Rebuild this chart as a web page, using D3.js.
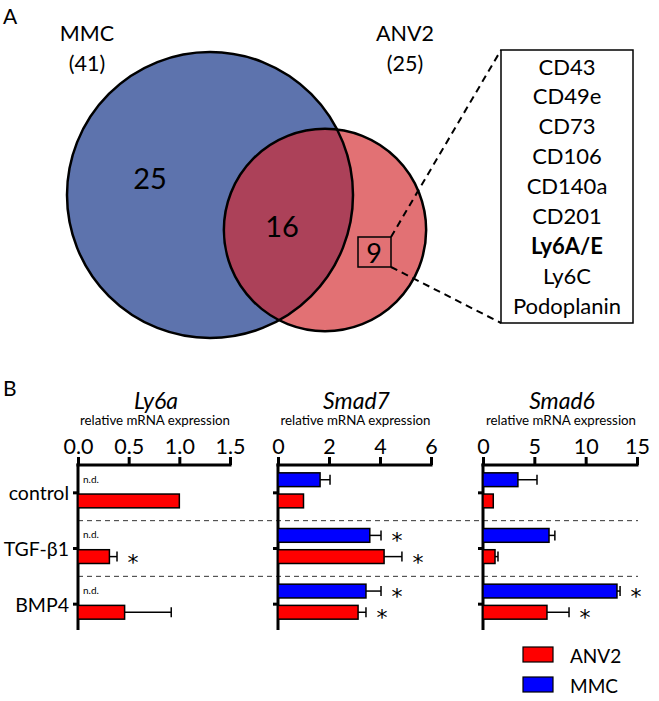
<!DOCTYPE html>
<html>
<head>
<meta charset="utf-8">
<script src="https://cdn.jsdelivr.net/npm/d3@7"></script>
<style>
  body { margin: 0; background: #fff; }
  svg { font-family: Lato, "Open Sans", sans-serif; }
</style>
</head>
<body>
<svg id="fig" width="659" height="701"></svg>
<script>
// ---- data ----
const vennSets = ["MMC", "ANV2"];
const vennTotals = [41, 25];
const vennCounts = [25, 16, 9]; // MMC only, both, ANV2 only
const anv2Markers = ["CD43", "CD49e", "CD73", "CD106", "CD140a", "CD201", "Ly6A/E", "Ly6C", "Podoplanin"];

const categories = ["control", "TGF-β1", "BMP4"];
const series = ["MMC", "ANV2"];

const ly6aMMC = [null, null, null];
const ly6aMMCErr = [0, 0, 0];
const ly6aMMCSig = [false, false, false];
const ly6aANV2 = [1.0, 0.31, 0.46];
const ly6aANV2Err = [0, 0.075, 0.46];
const ly6aANV2Sig = [false, true, false];

const smad7MMC = [1.65, 3.6, 3.45];
const smad7MMCErr = [0.39, 0.44, 0.59];
const smad7MMCSig = [false, true, true];
const smad7ANV2 = [1.0, 4.16, 3.14];
const smad7ANV2Err = [0, 0.7, 0.31];
const smad7ANV2Sig = [false, true, true];

const smad6MMC = [3.4, 6.43, 13.05];
const smad6MMCErr = [1.86, 0.57, 0.3];
const smad6MMCSig = [false, false, true];
const smad6ANV2 = [1.0, 1.17, 6.23];
const smad6ANV2Err = [0, 0.29, 2.15];
const smad6ANV2Sig = [false, false, true];

const colors = { MMC: "#0000ff", ANV2: "#ff0000" };

const svg = d3.select("#fig");

// ---- panel A: venn ----
svg.append("text").attr("x", 3).attr("y", 24).attr("font-size", 21).text("A");

const r = d3.scalePow().exponent(0.7).domain([0, 41]).range([0, 143]);
const circles = [
  { name: vennSets[0], total: vennTotals[0], cx: 210, cy: 195, fill: "#5d73ad" },
  { name: vennSets[1], total: vennTotals[1], cx: 325, cy: 230, fill: "#e27174" }
];

svg.append("clipPath").attr("id", "clipMMC")
  .append("circle").attr("cx", circles[0].cx).attr("cy", circles[0].cy).attr("r", r(circles[0].total));

svg.selectAll("circle.fill").data(circles).enter().append("circle")
  .attr("class", "fill")
  .attr("cx", d => d.cx).attr("cy", d => d.cy).attr("r", d => r(d.total))
  .attr("fill", d => d.fill);

svg.append("circle")
  .attr("cx", circles[1].cx).attr("cy", circles[1].cy).attr("r", r(circles[1].total))
  .attr("fill", "#ac4159").attr("clip-path", "url(#clipMMC)");

svg.selectAll("circle.edge").data(circles).enter().append("circle")
  .attr("class", "edge")
  .attr("cx", d => d.cx).attr("cy", d => d.cy).attr("r", d => r(d.total))
  .attr("fill", "none").attr("stroke", "#000").attr("stroke-width", 2.5);

const labelX = [87, 405];
circles.forEach((c, i) => {
  svg.append("text").attr("x", labelX[i]).attr("y", 41).attr("text-anchor", "middle")
    .attr("font-size", 21.5).text(c.name);
  svg.append("text").attr("x", labelX[i]).attr("y", 71).attr("text-anchor", "middle")
    .attr("font-size", 21.5).text("(" + c.total + ")");
});

const countPos = [[150, 177], [282, 225], [374, 252]];
vennCounts.forEach((n, i) => {
  svg.append("text").attr("x", countPos[i][0]).attr("y", countPos[i][1])
    .attr("text-anchor", "middle").attr("dominant-baseline", "central")
    .attr("font-size", i < 2 ? 29 : 27).text(n);
});

// box round "9" and zoom lines
const box9 = { x: 358, y: 237, w: 33, h: 30 };
svg.append("rect").attr("x", box9.x).attr("y", box9.y).attr("width", box9.w).attr("height", box9.h)
  .attr("fill", "none").attr("stroke", "#000").attr("stroke-width", 1.5);

const list = { x: 501, y: 50, w: 132, h: 273 };
[[box9.y, list.y], [box9.y + box9.h, list.y + list.h]].forEach(([y1, y2]) => {
  svg.append("line").attr("x1", box9.x + box9.w).attr("y1", y1).attr("x2", list.x).attr("y2", y2)
    .attr("stroke", "#000").attr("stroke-width", 2).attr("stroke-dasharray", "7,5");
});
svg.append("rect").attr("x", list.x).attr("y", list.y).attr("width", list.w).attr("height", list.h)
  .attr("fill", "#fff").attr("stroke", "#000").attr("stroke-width", 1.5);

const listY = d3.scalePoint().domain(anv2Markers).range([66, 305]);
svg.selectAll("text.marker").data(anv2Markers).enter().append("text")
  .attr("class", "marker")
  .attr("x", list.x + list.w / 2).attr("y", d => listY(d))
  .attr("text-anchor", "middle").attr("dominant-baseline", "central")
  .attr("font-size", 22)
  .attr("font-weight", d => d === "Ly6A/E" ? "bold" : "normal")
  .text(d => d);

// ---- panel B: bar charts ----
svg.append("text").attr("x", 3).attr("y", 396).attr("font-size", 21).text("B");

const axisTop = 465, axisBottom = 630;
const yCat = d3.scaleBand().domain(categories).range([axisTop, 632]);
const ySub = d3.scaleBand().domain(series).range([-20, 15]).paddingInner(0.35);

const charts = [
  { title: "Ly6a", left: 78, right: 230, max: 1.5, ticks: [0, 0.5, 1, 1.5], fmt: d3.format(".1f"),
    data: { MMC: [ly6aMMC, ly6aMMCErr, ly6aMMCSig], ANV2: [ly6aANV2, ly6aANV2Err, ly6aANV2Sig] } },
  { title: "Smad7", left: 278, right: 431, max: 6, ticks: [0, 2, 4, 6], fmt: d3.format("d"),
    data: { MMC: [smad7MMC, smad7MMCErr, smad7MMCSig], ANV2: [smad7ANV2, smad7ANV2Err, smad7ANV2Sig] } },
  { title: "Smad6", left: 483, right: 637, max: 15, ticks: [0, 5, 10, 15], fmt: d3.format("d"),
    data: { MMC: [smad6MMC, smad6MMCErr, smad6MMCSig], ANV2: [smad6ANV2, smad6ANV2Err, smad6ANV2Sig] } }
];

// dashed separators between groups
categories.slice(1).forEach(c => {
  svg.append("line").attr("x1", 78).attr("x2", 638)
    .attr("y1", yCat(c)).attr("y2", yCat(c))
    .attr("stroke", "#333").attr("stroke-width", 1).attr("stroke-dasharray", "5,4");
});

charts.forEach((ch, ci) => {
  const x = d3.scaleLinear().domain([0, ch.max]).range([ch.left, ch.right]);
  const g = svg.append("g");
  const mid = (ch.left + ch.right) / 2;

  g.append("text").attr("x", mid + 2).attr("y", 409).attr("text-anchor", "middle")
    .attr("font-size", 23).attr("font-style", "italic").text(ch.title);
  g.append("text").attr("x", mid + 1).attr("y", 425).attr("text-anchor", "middle")
    .attr("font-size", 13.3).text("relative mRNA expression");

  const ax = g.append("g").attr("transform", `translate(0,${axisTop})`)
    .call(d3.axisTop(x).tickValues(ch.ticks).tickFormat(ch.fmt).tickSize(8).tickSizeOuter(0).tickPadding(3));
  ax.select(".domain").attr("stroke-width", 3).attr("d", `M${ch.left - 1.5},0H${ch.right + 1.5}`);
  ax.selectAll(".tick line").attr("stroke-width", 3);
  ax.selectAll(".tick text").attr("font-size", 21.5).attr("font-family", "Lato, sans-serif").attr("fill", "#000");

  // vertical category axis
  g.append("line").attr("x1", ch.left).attr("x2", ch.left)
    .attr("y1", axisTop - 1.5).attr("y2", axisBottom)
    .attr("stroke", "#000").attr("stroke-width", 3);
  categories.forEach(c => {
    const cy = yCat(c) + yCat.bandwidth() / 2;
    g.append("line").attr("x1", ch.left - 5).attr("x2", ch.left).attr("y1", cy).attr("y2", cy)
      .attr("stroke", "#000").attr("stroke-width", 3);
    if (ci === 0) {
      g.append("text").attr("x", ch.left - 9).attr("y", cy).attr("text-anchor", "end")
        .attr("dominant-baseline", "central").attr("font-size", 19.5).text(c);
    }
  });

  series.forEach(s => {
    const [vals, errs, sigs] = ch.data[s];
    categories.forEach((c, i) => {
      const cy = yCat(c) + yCat.bandwidth() / 2;
      const y0 = cy + ySub(s);
      const h = ySub.bandwidth();
      const v = vals[i];
      if (v === null) {
        g.append("text").attr("x", ch.left + 5).attr("y", y0 + h / 2 + 3)
          .attr("font-size", 10).text("n.d.");
        return;
      }
      const hi = v + errs[i];
      if (errs[i] > 0) {
        g.append("line").attr("x1", x(v)).attr("x2", x(hi)).attr("y1", y0 + h / 2).attr("y2", y0 + h / 2)
          .attr("stroke", "#000").attr("stroke-width", 1.5);
        g.append("line").attr("x1", x(hi)).attr("x2", x(hi)).attr("y1", y0 + h / 2 - 5).attr("y2", y0 + h / 2 + 5)
          .attr("stroke", "#000").attr("stroke-width", 1.5);
      }
      g.append("rect").attr("x", x(0)).attr("y", y0)
        .attr("width", x(v) - x(0)).attr("height", h)
        .attr("fill", colors[s]).attr("stroke", "#000").attr("stroke-width", 1.5);
      if (sigs[i]) {
        g.append("text").attr("x", x(hi) + 16).attr("y", y0 + h / 2 + 13)
          .attr("text-anchor", "middle").attr("font-size", 22)
          .attr("font-family", "DejaVu Sans, sans-serif").attr("fill", "#000").text("*");
      }
    });
  });
});

// legend
const legendY = d3.scaleBand().domain(["ANV2", "MMC"]).range([647, 707]);
const leg = svg.selectAll("g.legend").data(["ANV2", "MMC"]).enter().append("g")
  .attr("class", "legend").attr("transform", d => `translate(523,${legendY(d)})`);
leg.append("rect").attr("width", 30).attr("height", 15)
  .attr("fill", d => colors[d]).attr("stroke", "#000").attr("stroke-width", 1.2);
leg.append("text").attr("x", 47).attr("y", 8).attr("dominant-baseline", "central")
  .attr("font-size", 19).text(d => d);
</script>
</body>
</html>
